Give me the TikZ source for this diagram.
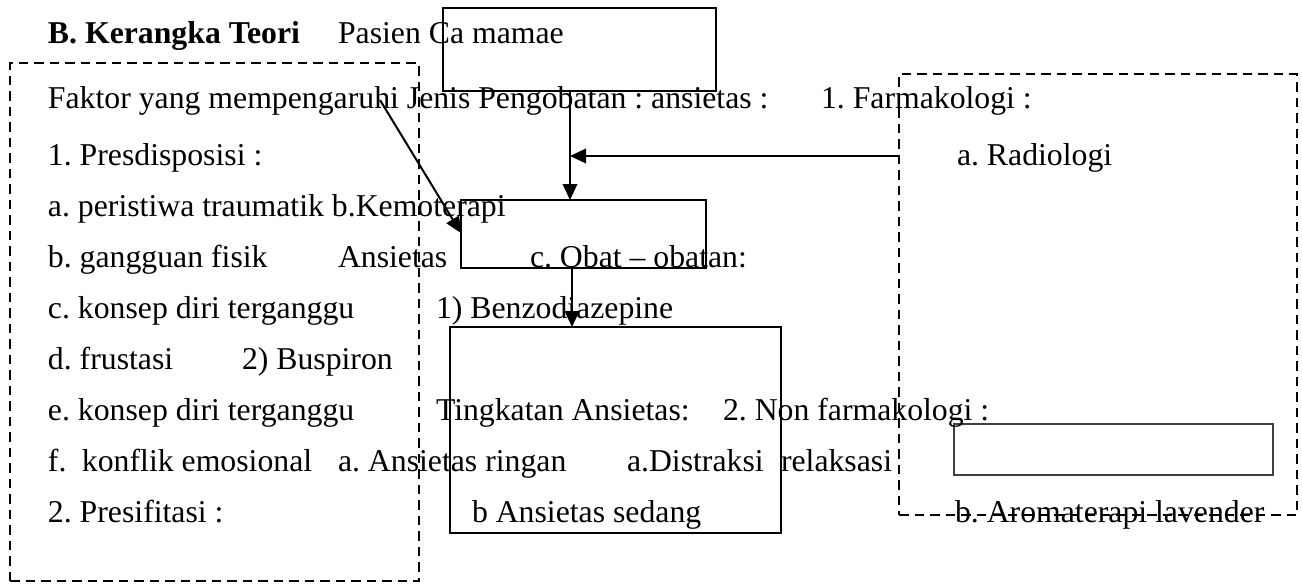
\documentclass[tikz,border=0pt]{standalone}
\usepackage{fontspec}
\setmainfont{Liberation Serif}
\usetikzlibrary{arrows.meta,fit}
\begin{document}
\frenchspacing
\begin{tikzpicture}[x=0.4pt,y=-0.4pt,
  txt/.style={anchor=base west,inner sep=0pt,outer sep=0pt,font=\fontsize{12.7pt}{15pt}\selectfont},
  solidbox/.style={draw,line width=0.6pt,inner sep=0pt,outer sep=0pt},
  thinbox/.style={draw=black!75,line width=0.5pt,inner sep=0pt,outer sep=0pt},
  dashbox/.style={draw,line width=0.8pt,dash pattern=on 3.8pt off 2.4pt,inner sep=0pt,outer sep=0pt},
  arr/.style={line width=0.8pt,-{Triangle[length=6.4pt,width=5.8pt]}}]
\useasboundingbox (0,0) rectangle (1302,583);
% boxes
\node[dashbox,fit={(10,63) (419,581)}] (left) {};
\node[dashbox,fit={(899,74) (1297,515)}] (right) {};
\node[solidbox,fit={(443,8) (716,91)}] (top) {};
\node[solidbox,fit={(461,200) (706,268)}] (mid) {};
\node[solidbox,fit={(450,327) (781,533)}] (big) {};
\node[thinbox,fit={(954,424) (1273,475)}] (small) {};
% texts
\node[txt,font=\fontsize{12.7pt}{15pt}\selectfont\bfseries] (t0) at (48,43) {B. Kerangka Teori};
\node[txt] (t0b) at (338,43) {Pasien Ca mamae};
\node[txt] (r1a) at (48,108) {Faktor yang mempengaruhi Jenis Pengobatan : ansietas :};
\node[txt] (r1b) at (821,108) {1. Farmakologi :};
\node[txt] (r2a) at (48,165) {1. Presdisposisi :};
\node[txt] (r2b) at (957,165) {a. Radiologi};
\node[txt] (r3a) at (48,216) {a. peristiwa traumatik b.Kemoterapi};
\node[txt] (r4a) at (48,267) {b. gangguan fisik};
\node[txt] (r4b) at (338,267) {Ansietas};
\node[txt] (r4c) at (530,267) {c. Obat – obatan:};
\node[txt] (r5a) at (48,318) {c. konsep diri terganggu};
\node[txt] (r5b) at (436,318) {1) Benzodiazepine};
\node[txt] (r6a) at (48,369) {d. frustasi};
\node[txt] (r6b) at (242,369) {2) Buspiron};
\node[txt] (r7a) at (48,420) {e. konsep diri terganggu};
\node[txt] (r7b) at (436,420) {Tingkatan Ansietas:};
\node[txt] (r7c) at (723,420) {2. Non farmakologi :};
\node[txt] (r8a) at (48,471) {f.};
\node[txt] (r8b) at (82,471) {konflik emosional};
\node[txt] (r8c) at (338,471) {a. Ansietas ringan};
\node[txt] (r8d) at (627,471) {a.Distraksi};
\node[txt] (r8e) at (781,471) {relaksasi};
\node[txt] (r9a) at (48,522) {2. Presifitasi :};
\node[txt] (r9b) at (472,522) {b Ansietas sedang};
\node[txt] (r9c) at (955,522) {b. Aromaterapi lavender};
% connectors
\coordinate (v1) at (570,0);
\coordinate (v2) at (572,0);
\coordinate (hy) at (0,156);
\coordinate (dstart) at (380,100);
\coordinate (dend) at (0,233);
\draw[arr] (v1 |- top.south) -- (v1 |- mid.north);
\draw[arr] (hy -| right.west) -- (hy -| v1);
\draw[arr] (dstart) -- (dend -| mid.west);
\draw[arr] (v2 |- mid.south) -- (v2 |- big.north);
\end{tikzpicture}
\end{document}
